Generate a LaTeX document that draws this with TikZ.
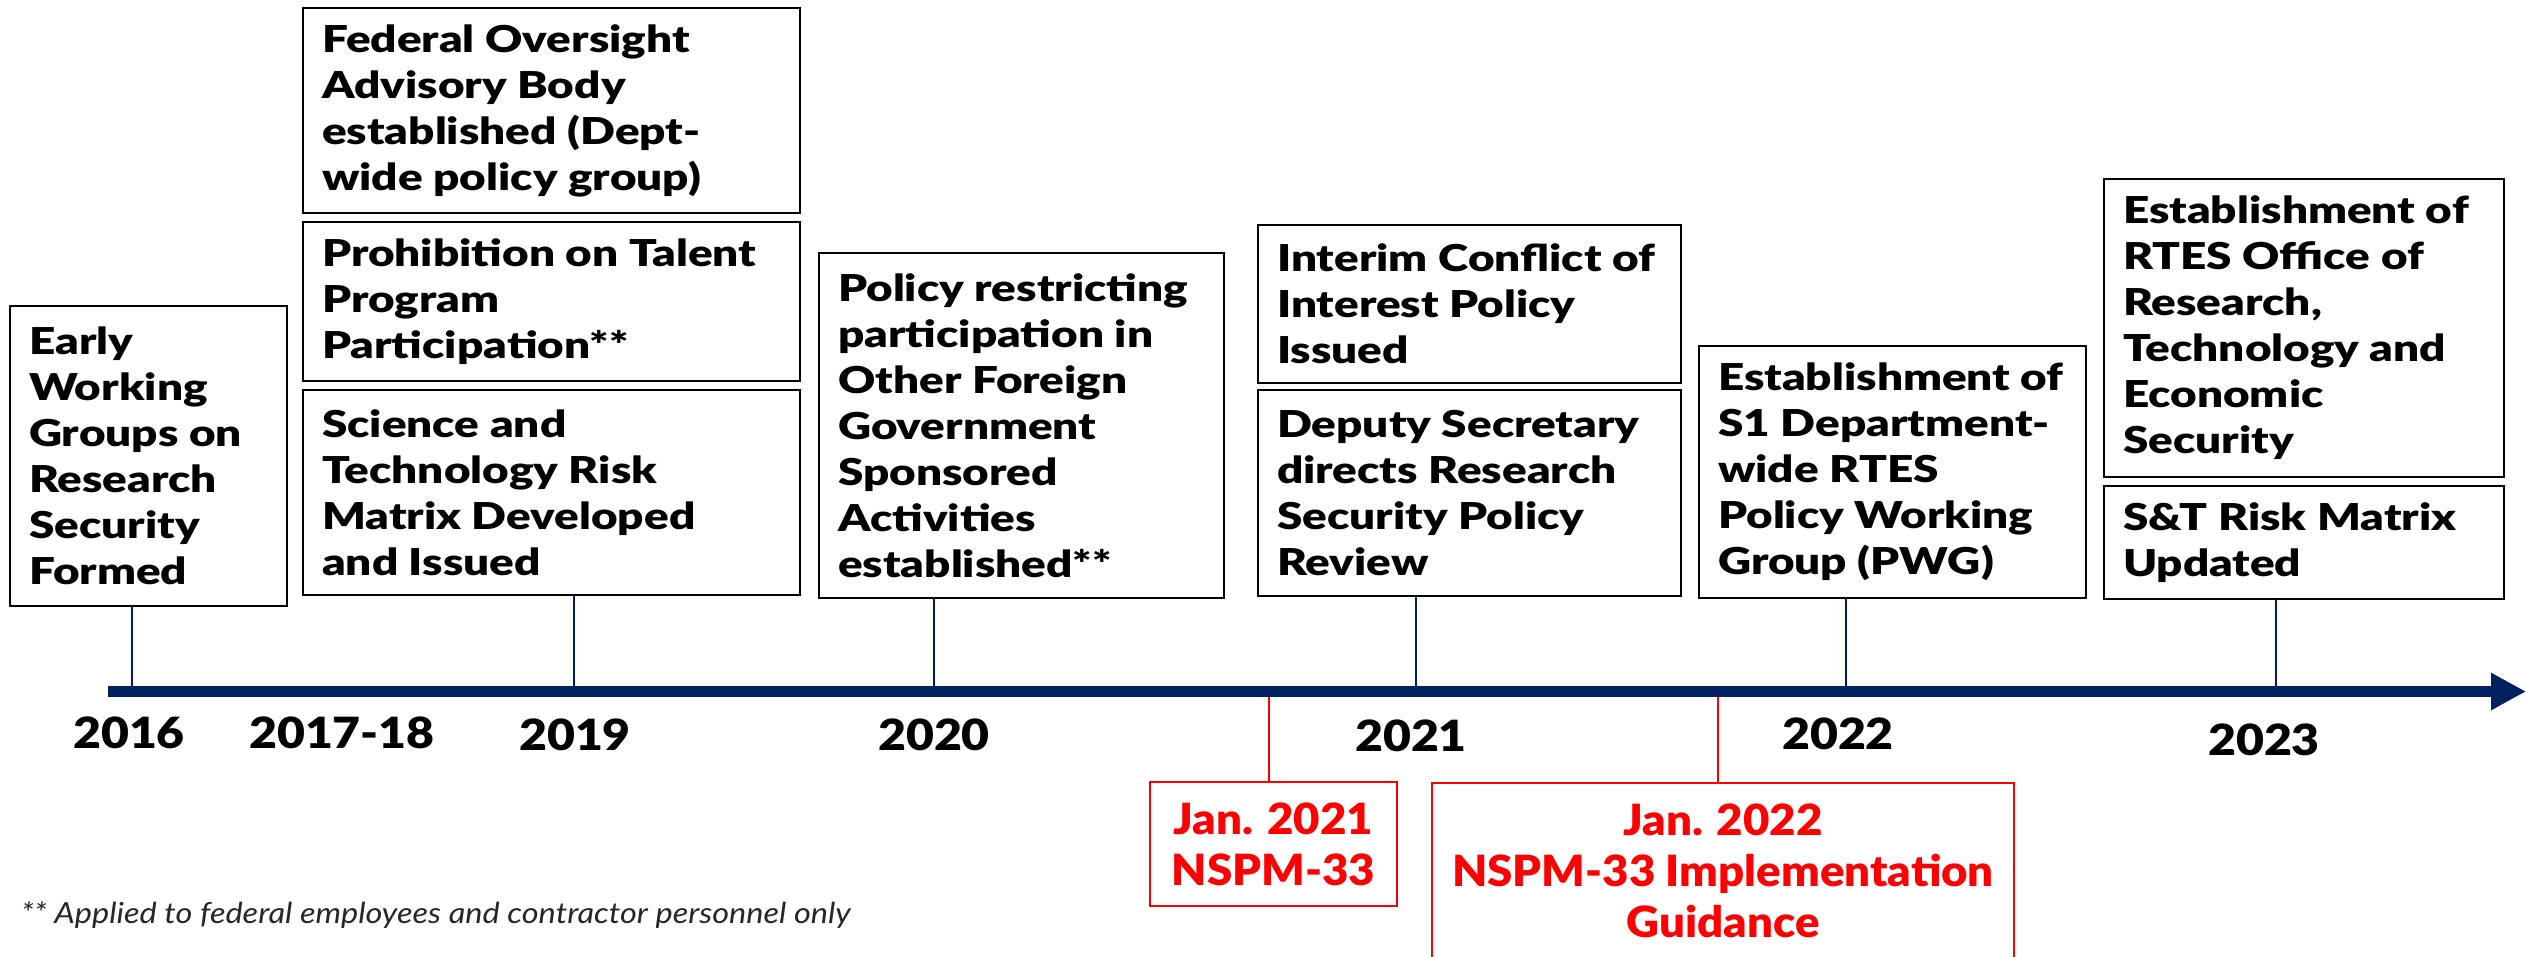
\documentclass[tikz,border=0pt]{standalone}
\usepackage{fontspec}
\setmainfont{Lato}
\newfontfamily\boxfont{Lato Black}[FakeStretch=1.24]
\newfontfamily\redfont{Lato Black}[FakeStretch=1.06]
\newfontfamily\yearfont{Lato Black}[FakeStretch=1.12]
\newfontfamily\notefont{Lato}[FakeStretch=1.12]
\usetikzlibrary{arrows.meta}
\definecolor{navy}{HTML}{002060}
\definecolor{pptred}{HTML}{FF0000}
\begin{document}
\begin{tikzpicture}[x=1pt,y=-1pt,
  frame/.style n args={2}{draw=black, line width=2.2pt, minimum width=#1pt, minimum height=#2pt, inner sep=0pt},
  evtext/.style={anchor=west, xshift=20pt, align=left, inner sep=0pt, font=\boxfont\fontsize{37}{46}\selectfont},
  redbox/.style n args={2}{draw=pptred, line width=2pt, text=pptred, align=center, inner sep=0pt, minimum width=#1pt, minimum height=#2pt, font=\redfont\fontsize{43}{51}\selectfont},
  yearlbl/.style={inner sep=0pt, font=\yearfont\fontsize{43}{51}\selectfont},
  tickln/.style={draw=navy, line width=1.5pt},
  redtick/.style={draw=pptred, line width=1.5pt},
  axisln/.style={draw=navy, line width=11.5pt, -{Triangle[length=35pt,width=35pt]}},
  foot/.style={anchor=base west, inner sep=0pt, font=\notefont\itshape\fontsize{29}{34}\selectfont, text=black!85}
]
\useasboundingbox (0,0) rectangle (2526,956);
\clip (0,0) rectangle (2526,956);

% event boxes
\node[frame={277}{300}] (early) at (148.5,456) {};
\node[evtext] (earlyT) at (early.west) {Early\\Working\\Groups on\\Research\\Security\\Formed};

\node[frame={497}{205}] (federal) at (551.5,110.5) {};
\node[evtext] (federalT) at (federal.west) {Federal Oversight\\Advisory Body\\established (Dept-\\wide policy group)};

\node[frame={497}{159}] (prohib) at (551.5,301.5) {};
\node[evtext] (prohibT) at (prohib.west) {Prohibition on Talent\\Program\\Participation**};

\node[frame={497}{205}] (science) at (551.5,492.5) {};
\node[evtext] (scienceT) at (science.west) {Science and\\Technology Risk\\Matrix Developed\\and Issued};

\node[frame={405}{345}] (policy) at (1021.5,425.5) {};
\node[evtext] (policyT) at (policy.west) {Policy restricting\\participation in\\Other Foreign\\Government\\Sponsored\\Activities\\established**};

\node[frame={423}{158}] (interim) at (1469.5,304) {};
\node[evtext] (interimT) at (interim.west) {Interim Conflict of\\Interest Policy\\Issued};

\node[frame={423}{206}] (deputy) at (1469.5,493) {};
\node[evtext] (deputyT) at (deputy.west) {Deputy Secretary\\directs Research\\Security Policy\\Review};

\node[frame={387}{252}] (sone) at (1892.5,472) {};
\node[evtext] (soneT) at (sone.west) {Establishment of\\S1 Department-\\wide RTES\\Policy Working\\Group (PWG)};

\node[frame={400}{298}] (rtes) at (2304,328) {};
\node[evtext] (rtesT) at (rtes.west) {Establishment of\\RTES Office of\\Research,\\Technology and\\Economic\\Security};

\node[frame={400}{113}] (st) at (2304,542.5) {};
\node[evtext] (stT) at (st.west) {S\&T Risk Matrix\\Updated};

% axis
\coordinate (axS) at (108,691.5);
\coordinate (axE) at (2526,691.5);
\draw[axisln] (axS) -- (axE);

% ticks above axis
\coordinate (k16) at (132,686);
\coordinate (k19) at (574,686);
\coordinate (k20) at (934,686);
\coordinate (k21) at (1416,686);
\coordinate (k22) at (1846,686);
\coordinate (k23) at (2276,686);
\draw[tickln] (k16) -- (k16 |- early.south);
\draw[tickln] (k19) -- (k19 |- science.south);
\draw[tickln] (k20) -- (k20 |- policy.south);
\draw[tickln] (k21) -- (k21 |- deputy.south);
\draw[tickln] (k22) -- (k22 |- sone.south);
\draw[tickln] (k23) -- (k23 |- st.south);

% year labels
\node[yearlbl] (y16) at (129,733) {2016};
\node[yearlbl] (y17) at (342,733) {2017-18};
\node[yearlbl] (y19) at (575,735) {2019};
\node[yearlbl] (y20) at (934,735) {2020};
\node[yearlbl] (y21) at (1411,736) {2021};
\node[yearlbl] (y22) at (1838,734) {2022};
\node[yearlbl] (y23) at (2264,740) {2023};

% red milestones
\node[redbox={247}{124}] (jan21) at (1273.5,844) {Jan. 2021\\NSPM-33};
\node[redbox={582}{176}] (jan22) at (1723,871) {Jan. 2022\\NSPM-33 Implementation\\Guidance};
\coordinate (r21) at (1269,697);
\coordinate (r22) at (1718,697);
\draw[redtick] (r21) -- (r21 |- jan21.north);
\draw[redtick] (r22) -- (r22 |- jan22.north);

% footnote
\node[foot] (note) at (21,923) {** Applied to federal employees and contractor personnel only};
\end{tikzpicture}
\end{document}
